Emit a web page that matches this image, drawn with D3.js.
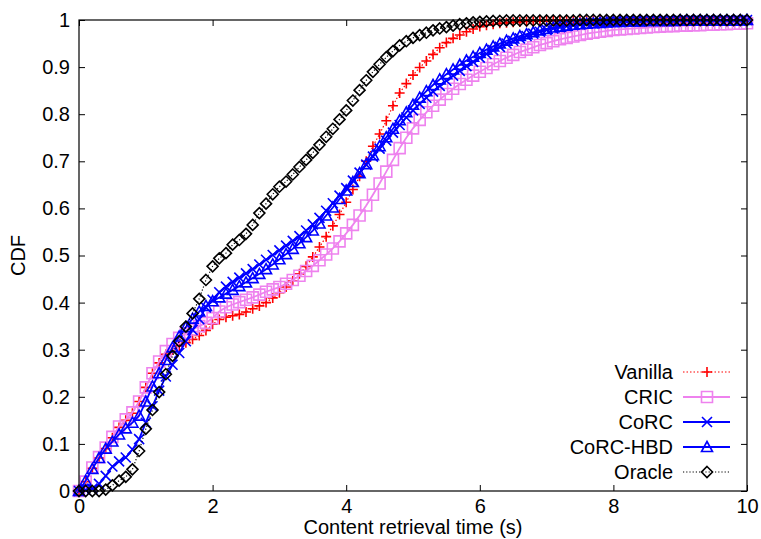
<!DOCTYPE html>
<html>
<head>
<meta charset="utf-8">
<script src="https://cdn.jsdelivr.net/npm/d3@7"></script>
<style>
  body { margin: 0; background: #fff; }
  text { font-family: "Liberation Sans", Arial, sans-serif; fill: #000; }
</style>
</head>
<body>
<script>
// samples are taken every 0.1 s from 0 to 10 s
var timeStep = 0.1;

var seriesNames = ["Vanilla", "CRIC", "CoRC", "CoRC-HBD", "Oracle"];

var vanilla = [
  0, 0.020, 0.048, 0.070, 0.090, 0.113, 0.135, 0.150, 0.165, 0.190,
  0.220, 0.250, 0.272, 0.290, 0.300, 0.308, 0.315, 0.322, 0.330, 0.341,
  0.354, 0.364, 0.369, 0.372, 0.375, 0.380, 0.387, 0.393, 0.400, 0.410,
  0.421, 0.433, 0.446, 0.461, 0.477, 0.497, 0.518, 0.540, 0.563, 0.587,
  0.613, 0.640, 0.668, 0.700, 0.732, 0.758, 0.786, 0.818, 0.845, 0.865,
  0.883, 0.899, 0.913, 0.927, 0.941, 0.952, 0.961, 0.968, 0.975, 0.981,
  0.986, 0.989, 0.991, 0.993, 0.994, 0.995, 0.996, 0.997, 0.997, 0.998,
  0.998, 0.998, 0.999, 0.999, 0.999, 0.999, 0.999, 0.999, 1, 1,
  1, 1, 1, 1, 1, 1, 1, 1, 1, 1,
  1, 1, 1, 1, 1, 1, 1, 1, 1, 1,
  1
];

var cric = [
  0, 0.020, 0.050, 0.072, 0.092, 0.115, 0.137, 0.152, 0.167, 0.190,
  0.220, 0.250, 0.275, 0.297, 0.312, 0.325, 0.335, 0.343, 0.350, 0.357,
  0.367, 0.381, 0.390, 0.396, 0.401, 0.406, 0.411, 0.417, 0.423, 0.428,
  0.433, 0.440, 0.448, 0.457, 0.467, 0.478, 0.490, 0.502, 0.515, 0.530,
  0.547, 0.565, 0.585, 0.606, 0.629, 0.653, 0.678, 0.703, 0.728, 0.750,
  0.770, 0.788, 0.804, 0.818, 0.831, 0.843, 0.854, 0.864, 0.873, 0.882,
  0.890, 0.898, 0.906, 0.913, 0.920, 0.926, 0.932, 0.937, 0.942, 0.947,
  0.951, 0.955, 0.959, 0.962, 0.965, 0.968, 0.971, 0.973, 0.975, 0.977,
  0.979, 0.980, 0.981, 0.982, 0.983, 0.984, 0.985, 0.986, 0.987, 0.987,
  0.988, 0.988, 0.989, 0.989, 0.990, 0.990, 0.991, 0.991, 0.992, 0.992,
  0.993
];

var corc = [
  0, 0.002, 0.005, 0.015, 0.032, 0.052, 0.063, 0.071, 0.088, 0.110,
  0.145, 0.180, 0.213, 0.243, 0.268, 0.293, 0.318, 0.342, 0.365, 0.390,
  0.406, 0.422, 0.434, 0.444, 0.453, 0.462, 0.471, 0.481, 0.491, 0.501,
  0.511, 0.521, 0.531, 0.541, 0.553, 0.566, 0.580, 0.595, 0.611, 0.627,
  0.643, 0.659, 0.676, 0.693, 0.710, 0.727, 0.744, 0.761, 0.777, 0.793,
  0.808, 0.822, 0.835, 0.848, 0.860, 0.871, 0.882, 0.892, 0.902, 0.911,
  0.920, 0.928, 0.936, 0.943, 0.950, 0.956, 0.961, 0.966, 0.971, 0.975,
  0.979, 0.982, 0.985, 0.987, 0.989, 0.991, 0.992, 0.993, 0.994, 0.995,
  0.996, 0.996, 0.997, 0.997, 0.997, 0.998, 0.998, 0.998, 0.998, 0.998,
  0.999, 0.999, 0.999, 0.999, 0.999, 0.999, 0.999, 0.999, 0.999, 0.999,
  1
];

var corcHbd = [
  0, 0.022, 0.047, 0.070, 0.090, 0.105, 0.120, 0.133, 0.145, 0.160,
  0.190, 0.222, 0.250, 0.278, 0.305, 0.328, 0.348, 0.366, 0.381, 0.393,
  0.403, 0.411, 0.419, 0.427, 0.435, 0.443, 0.452, 0.461, 0.471, 0.481,
  0.492, 0.503, 0.514, 0.526, 0.539, 0.553, 0.568, 0.585, 0.602, 0.620,
  0.638, 0.656, 0.675, 0.694, 0.713, 0.732, 0.751, 0.769, 0.787, 0.804,
  0.820, 0.835, 0.849, 0.862, 0.874, 0.885, 0.895, 0.905, 0.914, 0.922,
  0.930, 0.937, 0.944, 0.950, 0.956, 0.961, 0.966, 0.970, 0.974, 0.978,
  0.981, 0.984, 0.986, 0.988, 0.990, 0.991, 0.992, 0.993, 0.994, 0.995,
  0.996, 0.996, 0.997, 0.997, 0.997, 0.998, 0.998, 0.998, 0.998, 0.998,
  0.999, 0.999, 0.999, 0.999, 0.999, 0.999, 0.999, 0.999, 0.999, 0.999,
  1
];

var oracle = [
  0, 0, 0, 0, 0.003, 0.012, 0.022, 0.030, 0.046, 0.085,
  0.132, 0.172, 0.210, 0.248, 0.287, 0.318, 0.349, 0.377, 0.408, 0.448,
  0.477, 0.494, 0.505, 0.523, 0.533, 0.546, 0.565, 0.590, 0.610, 0.630,
  0.646, 0.657, 0.672, 0.688, 0.703, 0.718, 0.735, 0.752, 0.769, 0.789,
  0.808, 0.829, 0.851, 0.872, 0.890, 0.906, 0.921, 0.934, 0.946, 0.955,
  0.962, 0.968, 0.973, 0.978, 0.982, 0.985, 0.988, 0.991, 0.993, 0.995,
  0.996, 0.997, 0.998, 0.998, 0.999, 0.999, 0.999, 0.999, 0.999, 0.999,
  0.999, 0.999, 0.999, 0.999, 0.999, 1, 1, 1, 1, 1,
  1, 1, 1, 1, 1, 1, 1, 1, 1, 1,
  1, 1, 1, 1, 1, 1, 1, 1, 1, 1,
  1
];

var xTicks = [0, 2, 4, 6, 8, 10];
var yTicks = [0, 0.1, 0.2, 0.3, 0.4, 0.5, 0.6, 0.7, 0.8, 0.9, 1];

// chart setup
var chart = { width: 761, height: 539, left: 79, top: 20, right: 747, bottom: 491 };
var fontSize = "20px";

// marker paths, centred on 0,0
var markers = {
  plus: "M-5,0H5M0,-5V5",
  square: "M-5.5,-5.5H5.5V5.5H-5.5Z",
  cross: "M-5,-5L5,5M-5,5L5,-5",
  triangle: "M0,-5.5L5.5,4.5H-5.5Z",
  diamond: "M0,-5.5L5.5,0L0,5.5L-5.5,0Z"
};

var styles = [
  { color: "#ff0000", dash: "1.5,2", width: 1.2, marker: markers.plus, mw: 1.6 },
  { color: "#ee82ee", dash: null, width: 1.8, marker: markers.square, mw: 1.6 },
  { color: "#0000ff", dash: null, width: 1.8, marker: markers.cross, mw: 1.6 },
  { color: "#0000ff", dash: null, width: 1.8, marker: markers.triangle, mw: 1.6 },
  { color: "#000000", dash: "1.2,2", width: 1.2, marker: markers.diamond, mw: 1.6 }
];

var allSeries = [vanilla, cric, corc, corcHbd, oracle];

var svg = d3.select("body").append("svg")
  .attr("width", chart.width)
  .attr("height", chart.height);

var x = d3.scaleLinear().domain([0, 10]).range([chart.left, chart.right]);
var y = d3.scaleLinear().domain([0, 1]).range([chart.bottom, chart.top]);

// axes: gnuplot style, ticks inward and mirrored
var xAxis = d3.axisBottom(x).tickValues(xTicks).tickSize(-6).tickPadding(8).tickFormat(d3.format("d"));
var yAxis = d3.axisLeft(y).tickValues(yTicks).tickSize(-6).tickPadding(9).tickFormat(function(d) { return d3.format("~g")(d); });

svg.append("g").attr("transform", "translate(0," + chart.bottom + ")").call(xAxis)
  .call(function(g) { g.select(".domain").remove(); });
svg.append("g").attr("transform", "translate(" + chart.left + ",0)").call(yAxis)
  .call(function(g) { g.select(".domain").remove(); });
svg.append("g").attr("transform", "translate(0," + chart.top + ")")
  .call(d3.axisTop(x).tickValues(xTicks).tickSize(-6).tickFormat(""))
  .call(function(g) { g.select(".domain").remove(); });
svg.append("g").attr("transform", "translate(" + chart.right + ",0)")
  .call(d3.axisRight(y).tickValues(yTicks).tickSize(-6).tickFormat(""))
  .call(function(g) { g.select(".domain").remove(); });

svg.selectAll(".tick text")
  .style("font-family", "'Liberation Sans', Arial, sans-serif")
  .style("font-size", fontSize)
  .attr("fill", "#000");
svg.selectAll(".tick line").attr("stroke", "#000");

//plot the series
var line = d3.line()
  .x(function(d, i) { return x(i * timeStep); })
  .y(function(d) { return y(d); });

allSeries.forEach(function(values, k) {
  var st = styles[k];
  var g = svg.append("g").attr("class", "series");
  g.append("path")
    .datum(values)
    .attr("d", line)
    .attr("fill", "none")
    .attr("stroke", st.color)
    .attr("stroke-width", st.width)
    .attr("stroke-dasharray", st.dash);
  g.selectAll("path.mark").data(values)
    .enter().append("path")
    .attr("class", "mark")
    .attr("d", st.marker)
    .attr("transform", function(d, i) { return "translate(" + x(i * timeStep) + "," + y(d) + ")"; })
    .attr("fill", "none")
    .attr("stroke", st.color)
    .attr("stroke-width", st.mw);
});

// frame
svg.append("rect")
  .attr("x", chart.left).attr("y", chart.top)
  .attr("width", chart.right - chart.left).attr("height", chart.bottom - chart.top)
  .attr("fill", "none").attr("stroke", "#000").attr("stroke-width", 1.2);

// axis titles
svg.append("text")
  .attr("x", (chart.left + chart.right) / 2)
  .attr("y", 534)
  .attr("text-anchor", "middle")
  .style("font-size", fontSize)
  .text("Content retrieval time (s)");

svg.append("text")
  .attr("transform", "translate(25," + ((chart.top + chart.bottom) / 2) + ") rotate(-90)")
  .attr("text-anchor", "middle")
  .style("font-size", fontSize)
  .text("CDF");

// legend
var legend = svg.append("g").attr("class", "legend");
seriesNames.forEach(function(name, k) {
  var st = styles[k];
  var ly = 372 + k * 25;
  legend.append("text")
    .attr("x", 673).attr("y", ly + 7)
    .attr("text-anchor", "end")
    .style("font-size", fontSize)
    .text(name);
  legend.append("line")
    .attr("x1", 683).attr("x2", 730)
    .attr("y1", ly).attr("y2", ly)
    .attr("stroke", st.color)
    .attr("stroke-width", st.width)
    .attr("stroke-dasharray", st.dash);
  legend.append("path")
    .attr("d", st.marker)
    .attr("transform", "translate(707," + ly + ")")
    .attr("fill", "none")
    .attr("stroke", st.color)
    .attr("stroke-width", st.mw);
});
</script>
</body>
</html>
